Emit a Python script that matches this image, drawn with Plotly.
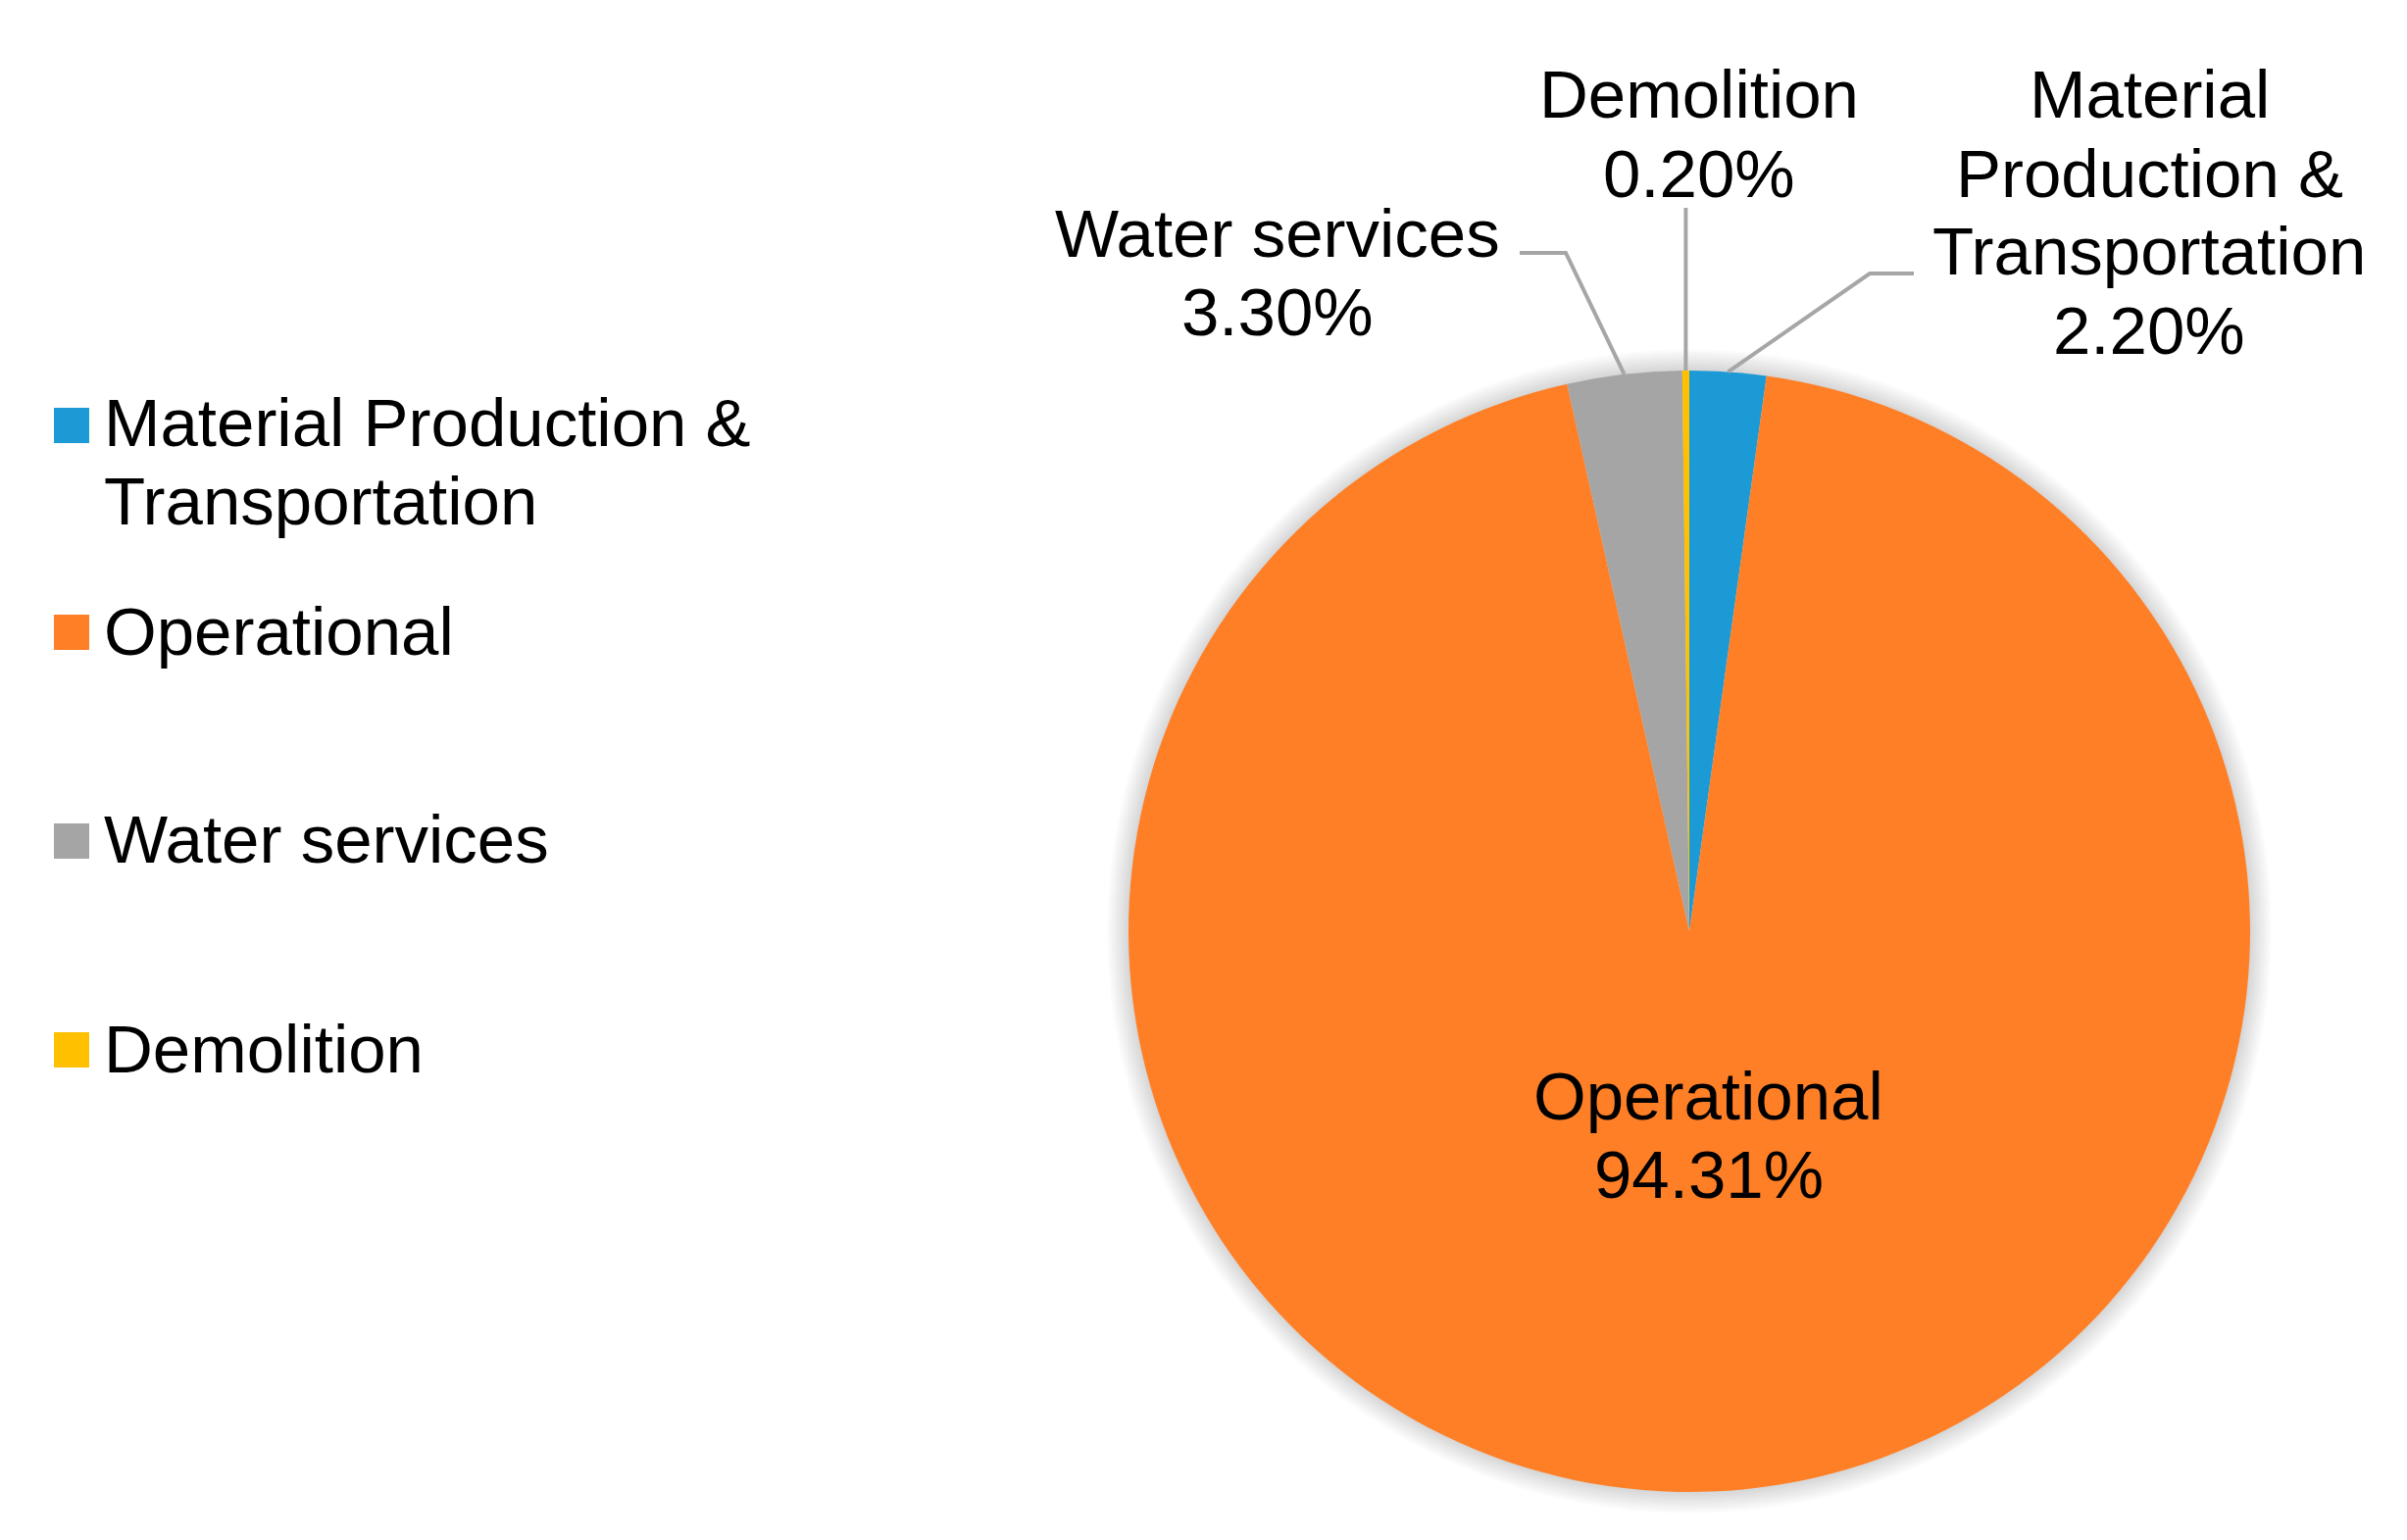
import math
import plotly.graph_objects as go

# ---- data ----
categories = ["Material Production & Transportation", "Operational", "Water services", "Demolition"]
values = [2.20, 94.31, 3.30, 0.20]
colors = ["#1C9AD6", "#FF7F27", "#A5A5A5", "#FFC000"]
legend_labels = ["Material Production &<br>Transportation", "Operational", "Water services", "Demolition"]
slice_labels = ["Material<br>Production &<br>Transportation", "Operational", "Water services", "Demolition"]

# ---- layout constants (pixels) ----
W, H = 2455, 1571
CX, CY, R = 1723, 950, 572
FONT = "Liberation Sans, Arial, sans-serif"
FS = 69
LS = 80  # line spacing in px

def px(x):
    return x / W

def py(y):
    return 1 - y / H

fig = go.Figure()
fig.add_trace(go.Pie(
    labels=categories,
    values=values,
    sort=False,
    direction="clockwise",
    rotation=0,
    marker=dict(colors=colors, line=dict(width=0)),
    textinfo="none",
    hoverinfo="label+percent",
    showlegend=False,
    domain=dict(x=[px(CX - R), px(CX + R)], y=[py(CY + R), py(CY - R)]),
))

shapes = []
# soft shadow around pie
for i in range(10):
    rr = R + 2 + i * 2.2
    shapes.append(dict(type="circle", xref="paper", yref="paper",
                       x0=px(CX - rr), x1=px(CX + rr), y0=py(CY + rr), y1=py(CY - rr),
                       fillcolor="rgba(0,0,0,0.014)", line=dict(width=0), layer="below"))

# label placement (first-line centers) and leader elbows in pixels
label_top = {
    "Material Production & Transportation": (2192, 97),
    "Operational": (1743, 1118),
    "Water services": (1303, 238),
    "Demolition": (1733, 97),
}
leader = {
    "Material Production & Transportation": [(1952, 279), (1907, 279)],
    "Water services": [(1550, 258), (1597, 258)],
    "Demolition": [(None, 212)],
}

annotations = []

def add_lines(text, x, y0, anchor):
    for k, line in enumerate(text.split("<br>")):
        annotations.append(dict(x=px(x), y=py(y0 + k * LS), xref="paper", yref="paper",
                                text=line, showarrow=False, xanchor=anchor, yanchor="middle",
                                font=dict(family=FONT, size=FS, color="#000000")))

total = sum(values)
cum = 0.0
for cat, val, lab in zip(categories, values, slice_labels):
    mid = (cum + val / 2) / total
    cum += val
    theta = 2 * math.pi * mid
    ex = CX + R * math.sin(theta)
    ey = CY - R * math.cos(theta)
    lx, ly = label_top[cat]
    add_lines(f"{lab}<br>{val:.2f}%", lx, ly, "center")
    if cat in leader:
        pts = [(ex if p[0] is None else p[0], p[1]) for p in leader[cat]] + [(ex, ey)]
        path = "M " + " L ".join(f"{px(a):.5f},{py(b):.5f}" for a, b in pts)
        shapes.append(dict(type="path", xref="paper", yref="paper", path=path,
                           line=dict(color="#A6A6A6", width=4), layer="above"))

# manual legend (large square swatches)
legend_y = [432, 644, 857, 1070]
swatch_y = [434, 645, 858, 1071]
SW = 36
for lab, col, ty, sy in zip(legend_labels, colors, legend_y, swatch_y):
    shapes.append(dict(type="rect", xref="paper", yref="paper",
                       x0=px(55), x1=px(55 + SW), y0=py(sy + SW / 2), y1=py(sy - SW / 2),
                       fillcolor=col, line=dict(width=0)))
    add_lines(lab, 104, ty, "left")

fig.update_layout(
    width=W, height=H,
    margin=dict(l=0, r=0, t=0, b=0),
    paper_bgcolor="white", plot_bgcolor="white",
    shapes=shapes, annotations=annotations,
    showlegend=False,
)

fig.write_html("out.html", config={"displayModeBar": False},
               post_script="document.body.style.margin='0';")
